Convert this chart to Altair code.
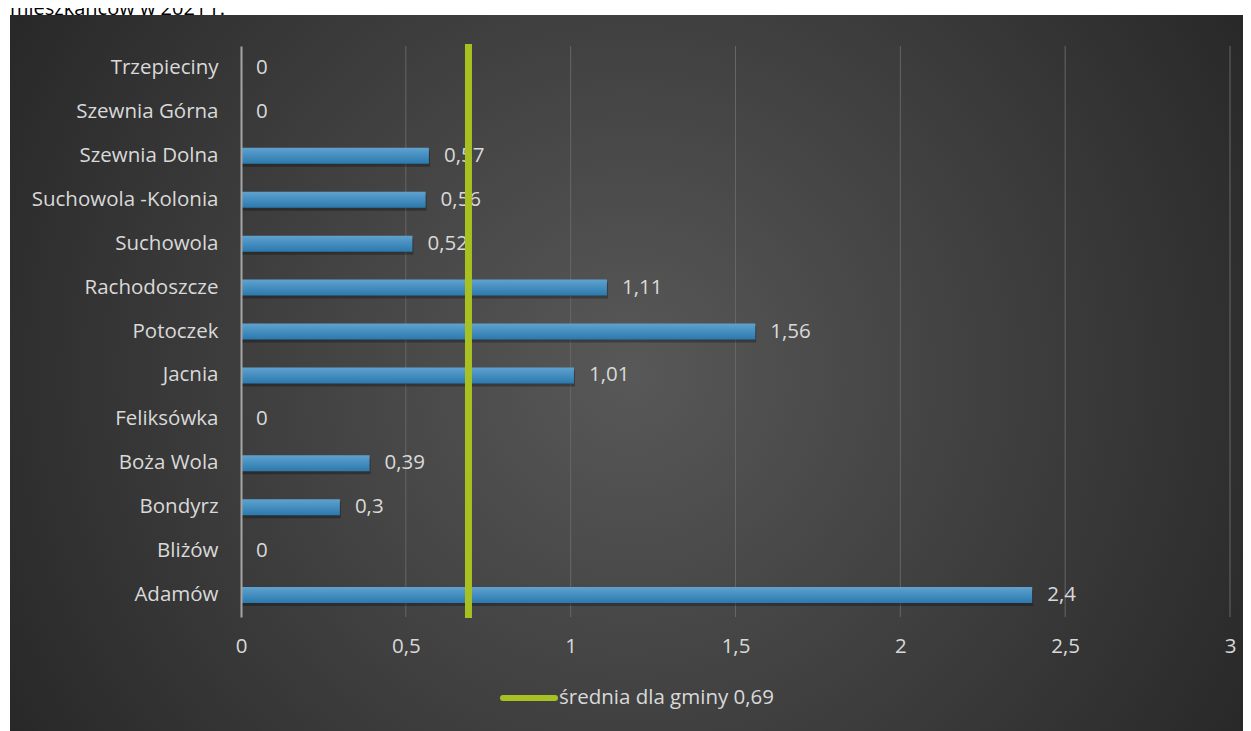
import altair as alt
import pandas as pd

categories = ["Trzepieciny", "Szewnia Górna", "Szewnia Dolna", "Suchowola -Kolonia",
              "Suchowola", "Rachodoszcze", "Potoczek", "Jacnia", "Feliksówka",
              "Boża Wola", "Bondyrz", "Bliżów", "Adamów"]
values = [0, 0, 0.57, 0.56, 0.52, 1.11, 1.56, 1.01, 0, 0.39, 0.3, 0, 2.4]
avg_value = 0.69
avg_label = "średnia dla gminy 0,69"
x_ticks = [0, 0.5, 1, 1.5, 2, 2.5, 3]
grid_ticks = [0.5, 1, 1.5, 2, 2.5, 3]
title_text = "mieszkańców w 2021 r."


def fmt(v):
    return f"{v:g}".replace(".", ",")


df = pd.DataFrame({"cat": categories, "val": values, "label": [fmt(v) for v in values]})
one = pd.DataFrame({"avg": [avg_value], "legend": [avg_label], "title": [title_text]})
grid_df = pd.DataFrame({"t": grid_ticks})

FONT = "Open Sans"
FS = 20.5
TXT = "#d9d9d9"
GREEN = "#a9c022"
x_scale = alt.Scale(domain=[0, 3], nice=False, zero=True)

bg_grad = {"gradient": "radial", "x1": 0.5, "y1": 0.5, "r1": 0,
           "x2": 0.5, "y2": 0.5, "r2": 0.6,
           "stops": [{"offset": 0, "color": "#585858"}, {"offset": 1, "color": "#262626"}]}
bar_grad = {"gradient": "linear", "x1": 0, "y1": 0, "x2": 0, "y2": 1,
            "stops": [{"offset": 0, "color": "#5fa2cf"}, {"offset": 1, "color": "#2b79ae"}]}

background = alt.Chart(one).mark_rect(fill=bg_grad).encode(
    x=alt.value(-231), x2=alt.value(1010), y=alt.value(-31), y2=alt.value(685)
)

title = alt.Chart(one).mark_text(align="left", baseline="alphabetic", fontSize=20,
                                 font=FONT, color="#000000").encode(
    x=alt.value(-231), y=alt.value(-31), text="title:N"
)

grid = alt.Chart(grid_df).mark_rule(color="#666666", strokeWidth=1).encode(
    x=alt.X("t:Q", scale=x_scale), y=alt.value(0), y2=alt.value(571)
)

y_enc = alt.Y("cat:N", sort=categories, title=None,
              axis=alt.Axis(labelFontSize=FS, labelColor=TXT, labelFont=FONT, ticks=False,
                            domainColor="#a6a6a6", domainWidth=2, labelPadding=23,
                            labelLimit=400, grid=False, zindex=1))
x_enc = alt.X("val:Q", scale=x_scale, title=None,
              axis=alt.Axis(values=x_ticks, labelExpr="replace(toString(datum.value), '.', ',')",
                            domain=False, ticks=False, grid=False, labelFlush=False,
                            labelFontSize=FS, labelColor=TXT, labelFont=FONT,
                            labelPadding=19, zindex=1))

shadow = alt.Chart(df).mark_bar(size=16, color="#000000", opacity=0.28, xOffset=1, yOffset=3).encode(
    x=x_enc, y=y_enc
)
bars = alt.Chart(df).mark_bar(size=16, fill=bar_grad).encode(x=x_enc, y=y_enc)
labels = alt.Chart(df).mark_text(align="left", dx=15, fontSize=FS, font=FONT, color=TXT).encode(
    x=x_enc, y=y_enc, text="label:N"
)

avg_line = alt.Chart(one).mark_rule(color=GREEN, strokeWidth=7).encode(
    x=alt.X("avg:Q", scale=x_scale), y=alt.value(-2), y2=alt.value(572)
)

legend_line = alt.Chart(one).mark_rule(color=GREEN, strokeWidth=6, strokeCap="round").encode(
    x=alt.value(262), x2=alt.value(314), y=alt.value(652)
)
legend_text = alt.Chart(one).mark_text(align="left", baseline="middle", fontSize=FS,
                                       font=FONT, color=TXT).encode(
    x=alt.value(318), y=alt.value(652), text="legend:N"
)

chart = alt.layer(background, title, grid, shadow, bars, labels, avg_line,
                  legend_line, legend_text).properties(
    width=989, height=571,
    padding={"left": 233, "top": 38, "right": 13, "bottom": 114},
    autosize=alt.AutoSizeParams(type="none"),
).configure_view(stroke=None)

chart.save("out.html", embed_options={"renderer": "svg", "actions": False})
